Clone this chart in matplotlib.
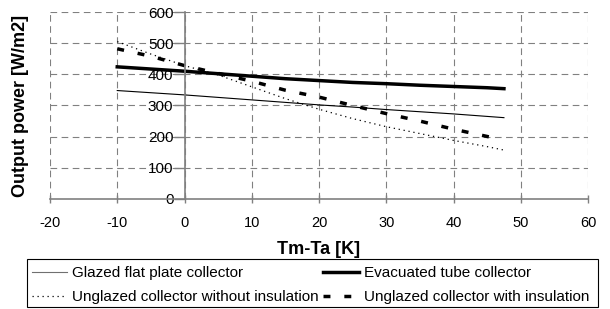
import matplotlib
matplotlib.use("Agg")
import matplotlib.pyplot as plt
from matplotlib.patches import Rectangle

plt.rcParams['font.family'] = ['Liberation Sans', 'DejaVu Sans']
plt.rcParams['axes.unicode_minus'] = False

#
# values
#
dT = [-10, -5, 0, 5, 10, 15, 20, 25, 30, 35, 40, 45, 47.5]
glazed = [348, 341, 334, 326, 318, 310, 302, 295, 287, 280, 273, 265, 261]
evacuated = [424, 417, 410, 402, 394, 386, 380, 374, 370, 365, 361, 357, 354]
unglazed_bare = [505, 465, 428, 398, 360, 322, 288, 258, 232, 210, 188, 168, 157]

dT_ins = [-10, -5, 0, 5, 10, 15, 20, 25, 30, 35, 40, 46]
unglazed_ins = [482, 458, 428, 403, 378, 349, 327, 300, 274, 250, 224, 196]

x_ticks = [-20, -10, 0, 10, 20, 30, 40, 50, 60]
y_ticks = [0, 100, 200, 300, 400, 500, 600]

fig = plt.figure(figsize=(6.1, 3.09), dpi=100)
ax = fig.add_axes([50/610, 1-199/309, 538/610, 187/309])

grid = dict(color='#808080', lw=0.8, ls=(0, (6, 4)))
for xv in x_ticks:
    ax.axvline(xv, zorder=0, **grid)
for yv in y_ticks[1:]:
    ax.axhline(yv, zorder=0, **grid)

l1, = ax.plot(dT, glazed, color='black', lw=0.8, label='Glazed flat plate collector')
l2, = ax.plot(dT, evacuated, color='black', lw=2.5, label='Evacuated tube collector')
l3, = ax.plot(dT, unglazed_bare, color='black', lw=0.9, ls=(0, (1, 3)),
              label='Unglazed collector without insulation')
l4, = ax.plot(dT_ins, unglazed_ins, color='black', lw=2.5, ls=(0, (2, 4)),
              label='Unglazed collector with insulation')

ax.set_xlim(-20, 60)
ax.set_ylim(0, 600)
ax.set_xticks(x_ticks)
ax.set_yticks(y_ticks)

# axes cross at the origin like the Excel chart
for s in ['top', 'right']:
    ax.spines[s].set_visible(False)
ax.spines['left'].set_position(('data', 0))
for s in ['left', 'bottom']:
    ax.spines[s].set_color('#808080')
    ax.spines[s].set_linewidth(1.2)

ax.tick_params(axis='x', direction='inout', length=6, width=1, color='#808080',
               labelsize=10.5, pad=9)
ax.tick_params(axis='y', direction='out', length=8, width=1, color='#808080',
               labelsize=11, pad=0)

fig.text(21/610, 1-106/309, 'Output power [W/m2]', rotation=90, fontsize=13,
         fontweight='bold', ha='center', va='center')
fig.text(319/610, 1-250/309, 'Tm-Ta [K]', fontsize=13, fontweight='bold',
         ha='center', va='center')

# legend box drawn separately so its size matches the reference
fig.patches.append(Rectangle((27/610, 1-307/309), 571/610, 48/309,
                             transform=fig.transFigure, fill=False,
                             edgecolor='black', lw=0.8))
leg = fig.legend(handles=[l1, l3, l2, l4], ncol=2, loc='upper left',
                 bbox_to_anchor=(29/610, 1-263/309),
                 fontsize=11, frameon=False, handlelength=2.3,
                 handletextpad=0.33, labelspacing=0.68, borderpad=0.2,
                 columnspacing=0.3, borderaxespad=0)
leg.get_lines()[0].set_color('#707070')

fig.savefig('out.png', dpi=100)
